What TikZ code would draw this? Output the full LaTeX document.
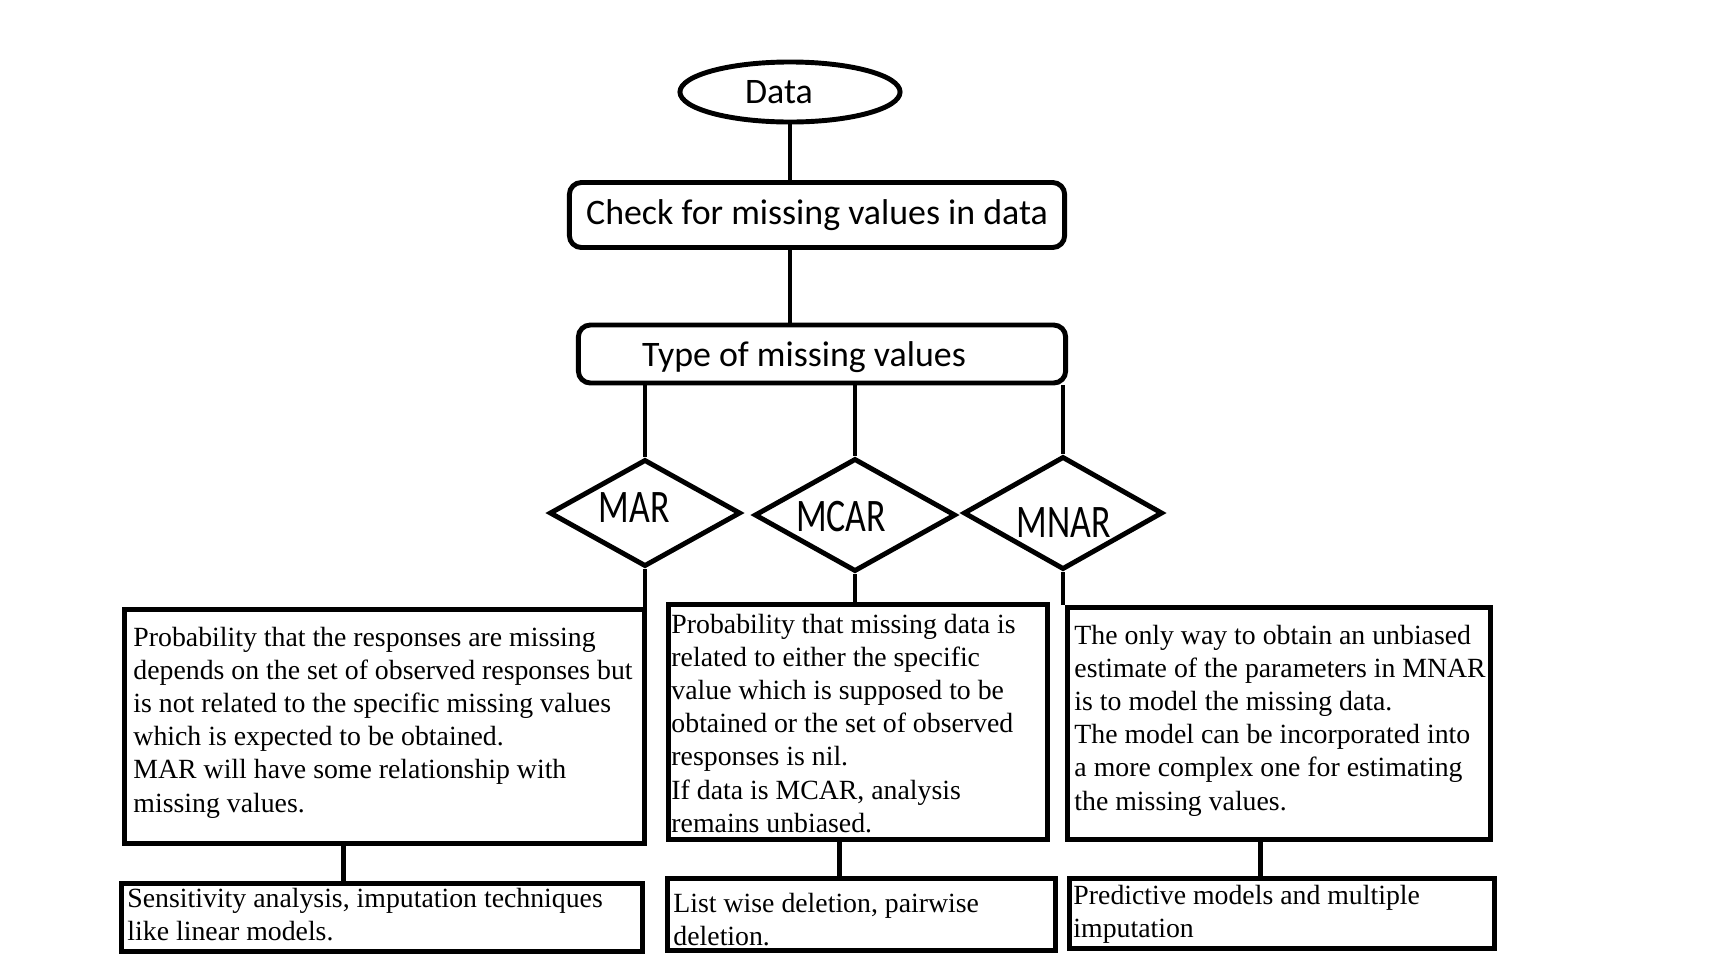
\documentclass[tikz,border=0pt]{standalone}
\usepackage{fontspec}
\setmainfont{Liberation Serif}
\newfontfamily\calibri{Carlito}
\usetikzlibrary{shapes.geometric}

\begin{document}
\begin{tikzpicture}[x=0.01cm,y=-0.01cm,line width=1.4pt,
		sanslabel/.style={font=\calibri\fontsize{10.2}{12}\selectfont,inner sep=0pt},
		stepbox/.style={draw,rectangle,rounded corners=0.12cm,inner sep=0pt,sanslabel},
		kind/.style={draw,diamond,inner sep=0pt},
		descbox/.style={draw,rectangle,inner sep=0pt,anchor=north west},
		desctext/.style={align=left,inner sep=0pt,anchor=north west,font=\fontsize{7.9}{9.4}\selectfont}]
	\useasboundingbox (0,0) rectangle (1722,957);

	\node[draw,ellipse,minimum width=2.2cm,minimum height=0.6cm,inner sep=0pt,
		label={[sanslabel,shift={(-11,0)}]center:Data}] (data) at (790,92) {};
	\node[stepbox,minimum width=4.95cm,minimum height=0.65cm] (check) at (817,215) {Check for missing values in data};
	\node[stepbox,minimum width=4.87cm,minimum height=0.58cm,
		label={[sanslabel,shift={(-18,3)}]center:Type of missing values}] (type) at (822,354) {};

	\node[kind,minimum width=1.91cm,minimum height=1.07cm,
		label={[sanslabel,shift={(-11,-5)}]center:\scalebox{1}[1.3]{MAR}}] (mar) at (645,513) {};
	\node[kind,minimum width=2.01cm,minimum height=1.13cm,
		label={[sanslabel,shift={(-14,2)}]center:\scalebox{1}[1.3]{MCAR}}] (mcar) at (855,515) {};
	\node[kind,minimum width=1.99cm,minimum height=1.13cm,
		label={[sanslabel,shift={(1,10)}]center:\scalebox{1}[1.3]{MNAR}}] (mnar) at (1063,513) {};

	\node[descbox,minimum width=5.2cm,minimum height=2.34cm] (marbox) at (122,607) {};
	\node[descbox,minimum width=3.79cm,minimum height=2.35cm] (mcarbox) at (666,602) {};
	\node[descbox,minimum width=4.23cm,minimum height=2.32cm] (mnarbox) at (1065,605) {};
	\node[descbox,minimum width=5.21cm,minimum height=0.68cm] (marres) at (119,881) {};
	\node[descbox,minimum width=3.88cm,minimum height=0.72cm] (mcarres) at (665,876) {};
	\node[descbox,minimum width=4.25cm,minimum height=0.70cm] (mnarres) at (1067,876) {};

	\node[desctext] (martext) at ([shift={(9,18)}]marbox.north west) {Probability that the responses are missing\\depends on the set of observed responses but\\is not related to the specific missing values\\which is expected to be obtained.\\MAR will have some relationship with\\missing values.};
	\node[desctext] (mcartext) at ([shift={(3,10)}]mcarbox.north west) {Probability that missing data is\\related to either the specific\\value which is supposed to be\\obtained or the set of observed\\responses is nil.\\If data is MCAR, analysis\\remains unbiased.};
	\node[desctext] (mnartext) at ([shift={(7,18)}]mnarbox.north west) {The only way to obtain an unbiased\\estimate of the parameters in MNAR\\is to model the missing data.\\The model can be incorporated into\\a more complex one for estimating\\the missing values.};
	\node[desctext] (marrestext) at ([shift={(6,5)}]marres.north west) {Sensitivity analysis, imputation techniques\\like linear models.};
	\node[desctext] (mcarrestext) at ([shift={(6,15)}]mcarres.north west) {List wise deletion, pairwise\\deletion.};
	\node[desctext] (mnarrestext) at ([shift={(4,7)}]mnarres.north west) {Predictive models and multiple\\imputation};

	\draw (data.south) -- (data.south |- check.north);
	\draw (check.south -| data.south) -- (type.north -| data.south);
	\draw (type.south -| mar.north) -- (mar.north);
	\draw (type.south -| mcar.north) -- (mcar.north);
	\draw (type.south -| mnar.north) -- (mnar.north);
	\draw (mar.south) -- (marbox.north -| mar.south);
	\draw (mcar.south) -- (mcarbox.north -| mcar.south);
	\draw (mnar.south) -- (mnarbox.north -| mnar.south);
	\draw ([shift={(-41,0)}]marbox.south) -- ([shift={(-41,0)}]marbox.south |- marres.north);
	\draw ([shift={(-19,0)}]mcarbox.south) -- ([shift={(-19,0)}]mcarbox.south |- mcarres.north);
	\draw ([shift={(-19,0)}]mnarbox.south) -- ([shift={(-19,0)}]mnarbox.south |- mnarres.north);
\end{tikzpicture}
\end{document}
